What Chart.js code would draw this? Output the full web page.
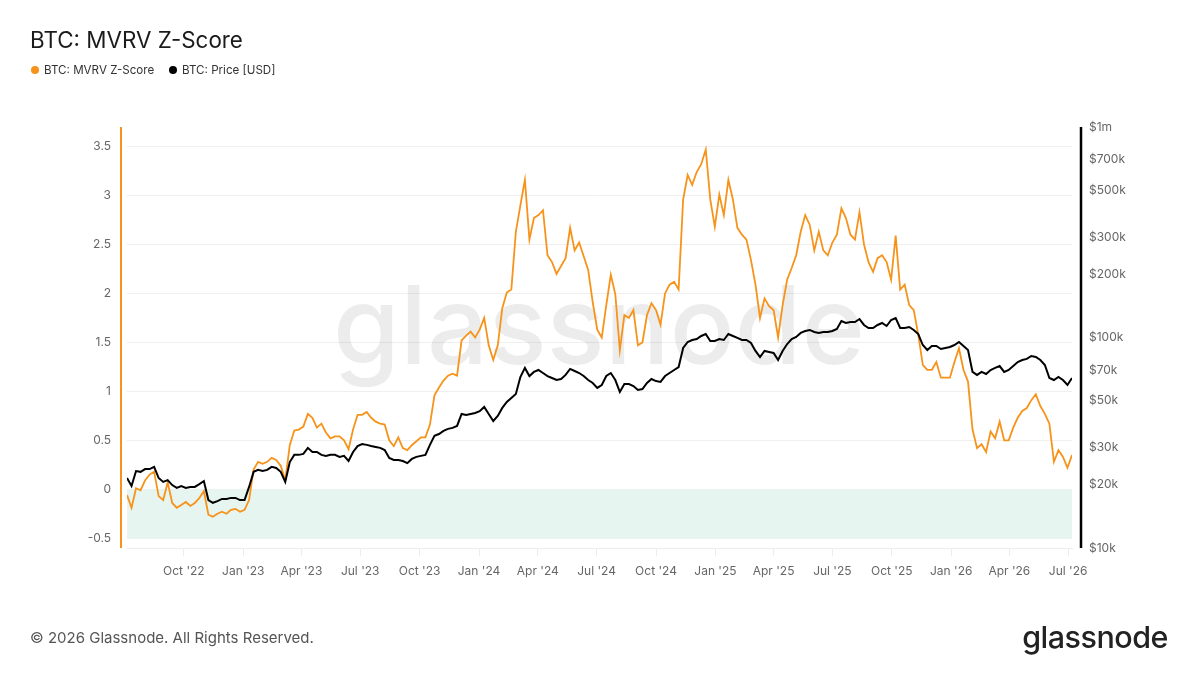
<!DOCTYPE html>
<html>
<head>
<meta charset="utf-8">
<script src="https://cdn.jsdelivr.net/npm/chart.js@4.4.1/dist/chart.umd.min.js"></script>
<style>
html,body{margin:0;padding:0;background:#fff;width:1200px;height:675px;overflow:hidden;font-family:Inter,"Liberation Sans",sans-serif;}
#wrap{position:relative;width:1200px;height:675px;}
#c{position:absolute;left:0;top:0;}
.title{position:absolute;left:30px;top:26px;font-size:22.4px;line-height:28px;color:#1b1b1b;white-space:nowrap;}
.item{position:absolute;top:62px;font-size:11.6px;line-height:16px;color:#333;white-space:nowrap;display:flex;align-items:center;}
.dot{width:8px;height:8px;border-radius:50%;margin-right:5px;display:inline-block;}
.footer{position:absolute;left:30px;top:628px;font-size:15px;line-height:20px;color:#555;white-space:nowrap;}
.logo{position:absolute;right:32px;top:619px;font-size:30.5px;line-height:36px;color:#222;font-weight:500;letter-spacing:-0.5px;white-space:nowrap;}
</style>
</head>
<body>
<div id="wrap">
  <canvas id="c" width="1200" height="675"></canvas>
  <div class="title">BTC: MVRV Z-Score</div>
  <div class="item" style="left:31px"><span class="dot" style="background:#f7931a"></span>BTC: MVRV Z-Score</div>
  <div class="item" style="left:169px"><span class="dot" style="background:#000"></span>BTC: Price [USD]</div>
  <div class="footer">© 2026 Glassnode. All Rights Reserved.</div>
  <div class="logo">glassnode</div>
</div>
<script>
// ---- data (weekly samples) ----
const startDate = '2022-07-05';
const stepDays = 7;

const mvrvZ = [
  -0.06, -0.19, 0.01, -0.01, 0.09, 0.15, 0.18, -0.07, -0.11, 0.07,
  -0.14, -0.19, -0.16, -0.13, -0.17, -0.14, -0.09, -0.02, -0.26, -0.28,
  -0.25, -0.23, -0.25, -0.21, -0.20, -0.23, -0.21, -0.11, 0.20, 0.28,
  0.26, 0.28, 0.32, 0.30, 0.24, 0.09, 0.45, 0.60, 0.61, 0.64,
  0.77, 0.73, 0.63, 0.67, 0.58, 0.52, 0.54, 0.54, 0.50, 0.41,
  0.61, 0.76, 0.76, 0.79, 0.73, 0.69, 0.67, 0.66, 0.50, 0.44,
  0.53, 0.42, 0.40, 0.45, 0.49, 0.53, 0.53, 0.66, 0.96, 1.04,
  1.11, 1.16, 1.18, 1.16, 1.52, 1.57, 1.61, 1.55, 1.63, 1.75,
  1.47, 1.32, 1.47, 1.85, 2.01, 2.04, 2.63, 2.90, 3.16, 2.55,
  2.77, 2.80, 2.85, 2.39, 2.32, 2.20, 2.28, 2.36, 2.67, 2.44,
  2.52, 2.38, 2.24, 1.91, 1.63, 1.55, 1.88, 2.19, 1.99, 1.42,
  1.78, 1.75, 1.83, 1.47, 1.50, 1.78, 1.90, 1.83, 1.68, 2.00,
  2.09, 2.12, 2.04, 2.96, 3.21, 3.11, 3.24, 3.32, 3.47, 2.96,
  2.68, 3.01, 2.80, 3.16, 2.96, 2.67, 2.60, 2.55, 2.34, 2.09,
  1.75, 1.95, 1.87, 1.83, 1.55, 1.88, 2.14, 2.26, 2.39, 2.63,
  2.80, 2.70, 2.44, 2.63, 2.44, 2.39, 2.52, 2.60, 2.87, 2.77,
  2.60, 2.55, 2.83, 2.50, 2.32, 2.22, 2.36, 2.39, 2.32, 2.14,
  2.59, 2.04, 2.09, 1.88, 1.83, 1.58, 1.27, 1.22, 1.22, 1.30,
  1.14, 1.14, 1.14, 1.30, 1.44, 1.22, 1.10, 0.61, 0.42, 0.46,
  0.38, 0.59, 0.52, 0.69, 0.50, 0.50, 0.63, 0.73, 0.80, 0.83,
  0.91, 0.97, 0.85, 0.77, 0.67, 0.28, 0.40, 0.33, 0.22, 0.35
];

// BTC price in thousands of USD
const priceK = [
  21.5, 19.7, 23.2, 23.0, 23.7, 23.7, 24.3, 21.5, 20.6, 21.0,
  19.9, 19.3, 19.7, 19.3, 19.5, 19.5, 20.1, 20.8, 16.9, 16.4,
  16.7, 17.1, 17.1, 17.3, 17.3, 16.9, 16.9, 19.5, 23.0, 23.5,
  23.2, 23.5, 24.3, 24.0, 23.0, 20.6, 25.6, 27.7, 27.7, 28.0,
  29.9, 28.6, 28.6, 27.7, 27.4, 27.7, 27.7, 27.1, 27.4, 25.9,
  28.6, 30.5, 31.2, 30.9, 30.5, 30.2, 29.9, 29.2, 26.8, 26.2,
  26.2, 25.9, 25.3, 26.5, 27.1, 27.4, 27.7, 30.9, 34.1, 34.8,
  36.0, 36.8, 37.2, 38.0, 43.3, 42.8, 43.3, 43.8, 44.7, 46.8,
  43.3, 40.1, 42.4, 46.3, 49.4, 51.6, 53.9, 64.9, 71.7, 65.6,
  68.6, 70.1, 67.8, 65.6, 64.2, 62.8, 63.5, 66.4, 70.9, 69.3,
  67.8, 65.6, 62.8, 60.8, 57.6, 59.5, 65.6, 67.8, 62.8, 55.1,
  60.1, 60.1, 58.8, 56.3, 56.9, 60.8, 63.5, 62.1, 61.5, 65.6,
  67.8, 70.1, 72.4, 89.2, 95.2, 97.3, 98.4, 101.7, 103.9, 96.3,
  96.3, 98.4, 97.3, 103.9, 101.7, 99.5, 97.3, 97.3, 94.2, 86.3,
  80.8, 86.3, 85.3, 84.4, 78.2, 86.3, 93.1, 98.4, 100.6, 105.1,
  107.4, 108.6, 106.2, 105.1, 106.2, 106.2, 107.4, 109.8, 119.8, 117.2,
  118.5, 118.5, 122.4, 114.7, 111.0, 111.0, 114.7, 117.2, 113.4, 121.1,
  123.8, 111.0, 111.0, 112.2, 108.6, 103.9, 92.1, 87.2, 91.1, 91.1,
  88.2, 89.2, 90.2, 92.1, 95.2, 91.1, 87.2, 68.6, 66.4, 68.6,
  67.1, 70.1, 71.7, 73.2, 68.6, 70.1, 73.2, 76.5, 78.2, 79.1,
  81.7, 80.8, 78.2, 74.0, 64.2, 62.8, 64.9, 62.8, 59.5, 64.2
];

const zTicks = [-0.5, 0, 0.5, 1, 1.5, 2, 2.5, 3, 3.5];
const priceTicks = [10000, 20000, 30000, 50000, 70000, 100000, 200000, 300000, 500000, 700000, 1000000];
const priceTickLabels = ['$10k', '$20k', '$30k', '$50k', '$70k', '$100k', '$200k', '$300k', '$500k', '$700k', '$1m'];
const dateTicks = ['2022-10-01','2023-01-01','2023-04-01','2023-07-01','2023-10-01','2024-01-01','2024-04-01','2024-07-01',
                   '2024-10-01','2025-01-01','2025-04-01','2025-07-01','2025-10-01','2026-01-01','2026-04-01','2026-07-01'];
const dateTickLabels = ["Oct '22","Jan '23","Apr '23","Jul '23","Oct '23","Jan '24","Apr '24","Jul '24",
                        "Oct '24","Jan '25","Apr '25","Jul '25","Oct '25","Jan '26","Apr '26","Jul '26"];
const bandRange = [0, -0.5];

// ---- build ----
const DAY = 86400000;
const t0 = Date.parse(startDate);
const dates = mvrvZ.map((_, i) => t0 + i * stepDays * DAY);
const zPoints = mvrvZ.map((v, i) => ({x: dates[i], y: v}));
const pPoints = priceK.map((v, i) => ({x: dates[i], y: v * 1000}));

const ORANGE = '#f7931a';
const FONT = 'Inter, "Liberation Sans", sans-serif';

const decor = {
  id: 'decor',
  beforeDatasetsDraw(chart) {
    const {ctx, chartArea: a, scales} = chart;
    const yZ = scales.yZ;
    const yTop = yZ.getPixelForValue(bandRange[0]);
    const yBot = yZ.getPixelForValue(bandRange[1]);
    ctx.save();
    ctx.fillStyle = '#e6f5ef';
    ctx.fillRect(a.left, yTop, a.right - a.left, yBot - yTop);
    // watermark
    ctx.font = '500 108px ' + FONT;
    const w = ctx.measureText('glassnode').width;
    const sx = 532 / w;
    ctx.translate(599, 364);
    ctx.scale(sx, 1);
    ctx.textAlign = 'center';
    ctx.textBaseline = 'alphabetic';
    ctx.fillStyle = 'rgba(0,0,0,0.075)';
    ctx.fillText('glassnode', 0, 0);
    ctx.restore();
  },
  afterDraw(chart) {
    const {ctx, chartArea: a} = chart;
    ctx.save();
    ctx.lineCap = 'butt';
    ctx.strokeStyle = ORANGE;
    ctx.lineWidth = 2;
    ctx.beginPath();
    ctx.moveTo(a.left - 6, a.top);
    ctx.lineTo(a.left - 6, a.bottom);
    ctx.stroke();
    ctx.strokeStyle = '#000';
    ctx.lineWidth = 2.5;
    ctx.beginPath();
    ctx.moveTo(a.right + 9, a.top);
    ctx.lineTo(a.right + 9, a.bottom);
    ctx.stroke();
    ctx.restore();
  }
};

new Chart(document.getElementById('c'), {
  type: 'line',
  data: {
    datasets: [
      {label: 'BTC: Price [USD]', data: pPoints, yAxisID: 'yP', borderColor: '#000', borderWidth: 2,
       pointRadius: 0, tension: 0, order: 0},
      {label: 'BTC: MVRV Z-Score', data: zPoints, yAxisID: 'yZ', borderColor: ORANGE, borderWidth: 1.8,
       pointRadius: 0, tension: 0, order: 1}
    ]
  },
  options: {
    responsive: false,
    animation: false,
    parsing: false,
    normalized: true,
    layout: {padding: {top: 127, left: 0, right: 0, bottom: 87}},
    plugins: {legend: {display: false}, tooltip: {enabled: false}, title: {display: false}},
    scales: {
      x: {
        type: 'linear',
        min: dates[0],
        max: dates[dates.length - 1],
        afterBuildTicks: s => { s.ticks = dateTicks.map(d => ({value: Date.parse(d)})); },
        afterFit: s => { s.height = 40; },
        grid: {drawOnChartArea: false, drawTicks: true, tickLength: 8, color: '#ececec'},
        border: {display: true, color: '#ececec'},
        ticks: {autoSkip: false, maxRotation: 0, padding: 8, color: '#666', font: {size: 12, family: FONT},
                callback: (v, i) => dateTickLabels[i]}
      },
      yZ: {
        type: 'linear',
        position: 'left',
        min: -0.6,
        max: 3.7,
        afterBuildTicks: s => { s.ticks = zTicks.map(v => ({value: v})); },
        afterFit: s => { s.width = 127; },
        grid: {color: '#efefef', drawTicks: false},
        border: {display: false},
        ticks: {autoSkip: false, padding: 16, color: '#666', font: {size: 12, family: FONT},
                callback: v => String(v)}
      },
      yP: {
        type: 'logarithmic',
        position: 'right',
        min: 10000,
        max: 1000000,
        afterBuildTicks: s => { s.ticks = priceTicks.map(v => ({value: v})); },
        afterFit: s => { s.width = 128; },
        grid: {drawOnChartArea: false, drawTicks: false},
        border: {display: false},
        ticks: {autoSkip: false, padding: 17, color: '#666', font: {size: 12, family: FONT},
                callback: (v, i) => priceTickLabels[i]}
      }
    }
  },
  plugins: [decor]
});
</script>
</body>
</html>
